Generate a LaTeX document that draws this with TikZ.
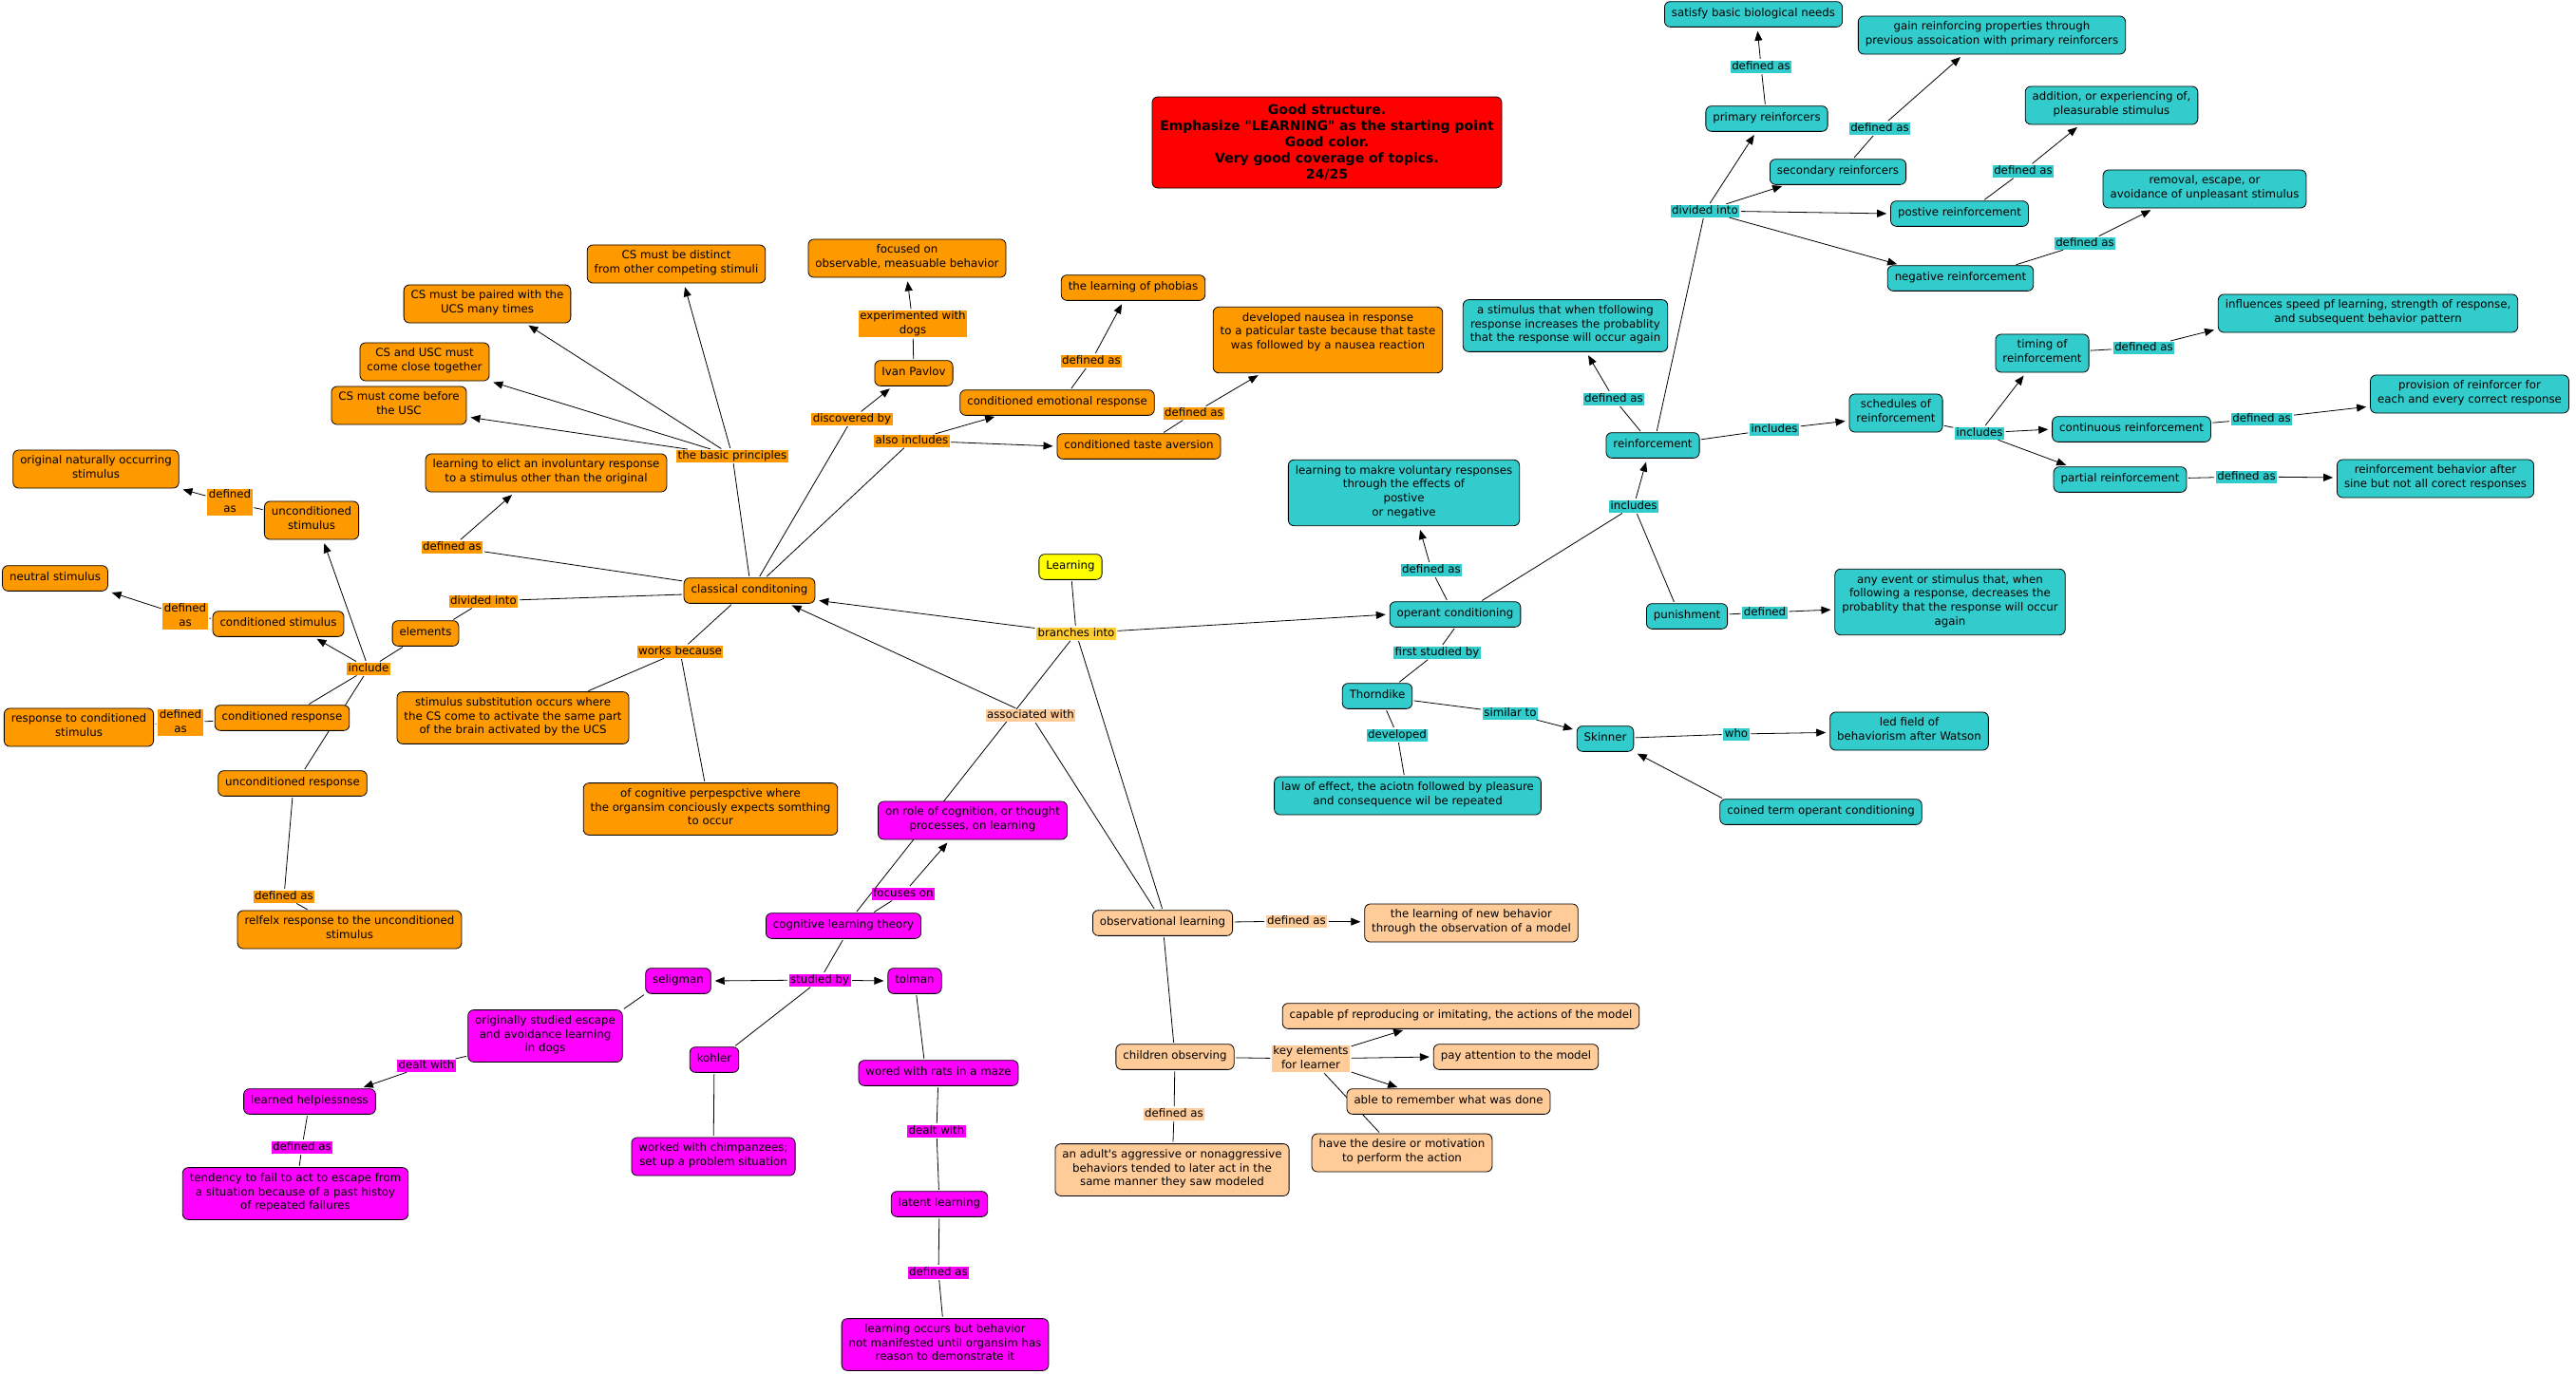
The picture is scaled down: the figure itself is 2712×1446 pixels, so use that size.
\documentclass[tikz,border=0pt]{standalone}
\usepackage{fontspec}
\newfontfamily\cfont{DejaVu Sans}
\usetikzlibrary{arrows.meta}
\pgfdeclarelayer{bottom}
\pgfdeclarelayer{edges}
\pgfsetlayers{bottom,edges,main}
\definecolor{orC}{HTML}{FF9900}
\definecolor{tlC}{HTML}{33CCCC}
\definecolor{mgC}{HTML}{FF00FF}
\definecolor{pcC}{HTML}{FFCC99}
\definecolor{ylC}{HTML}{FFFF00}
\definecolor{gdC}{HTML}{FFCC33}
\definecolor{rdC}{HTML}{FF0000}
\newcommand\lstrut{\vrule height 9pt depth 3pt width 0pt}
\tikzset{
  concept/.style={draw=black, line width=0.8pt, rounded corners=6pt, align=center,
    inner xsep=7.5pt, inner ysep=6pt, font=\cfont\fontsize{11.8}{14.7}\selectfont,
    execute at begin node=\strut, execute at end node=\strut},
  oc/.style={concept, fill=orC},
  tc/.style={concept, fill=tlC},
  mc/.style={concept, fill=mgC},
  pc/.style={concept, fill=pcC},
  lab/.style={inner xsep=1.5pt, inner ysep=0.5pt, align=center,
    font=\cfont\fontsize{11.8}{14.7}\selectfont,
    execute at begin node=\lstrut, execute at end node=\lstrut},
  ol/.style={lab, fill=orC},
  tl/.style={lab, fill=tlC},
  ml/.style={lab, fill=mgC},
  pl/.style={lab, fill=pcC},
  ln/.style={draw=black, line width=0.8pt, shorten <=1.5pt, shorten >=1.5pt},
  ar/.style={ln, -{Triangle[length=10pt,width=8pt]}, shorten >=4pt}
}
\begin{document}
\begin{tikzpicture}[x=1pt,y=-1pt]
\useasboundingbox (0,0) rectangle (2712,1446);
\begin{pgfonlayer}{bottom}
\fill[white] (0,0) rectangle (2712,1446);
\end{pgfonlayer}

% ---------- note ----------
\node[draw=black, line width=0.8pt, rounded corners=6pt, fill=rdC, align=center,
  minimum width=368pt, minimum height=96pt, inner sep=3pt,
  font=\cfont\bfseries\fontsize{14}{17}\selectfont] (note) at (1397,150)
  {Good structure.\\Emphasize "LEARNING" as the starting point\\Good color.\\Very good coverage of topics.\\24/25};

% ---------- classical (orange) ----------
\node[oc] (cs1) at (712,278) {CS must be distinct\\from other competing stimuli};
\node[oc] (cs2) at (513,320) {CS must be paired with the\\UCS many times};
\node[oc] (cs3) at (447,381) {CS and USC must\\come close together};
\node[oc] (cs4) at (420,427) {CS must come before\\the USC};
\node[oc] (focus) at (955,272) {focused on\\observable, measuable behavior};
\node[oc] (pavlov) at (962,393) {Ivan Pavlov};
\node[oc] (phobia) at (1193,303) {the learning of phobias};
\node[oc] (nausea) at (1398,358) {developed nausea in response\\to a paticular taste because that taste\\was followed by a nausea reaction\\\mbox{}};
\node[oc] (cer) at (1113,424) {conditioned emotional response};
\node[oc] (cta) at (1199,470) {conditioned taste aversion};
\node[oc] (elicit) at (575,498) {learning to elict an involuntary response\\to a stimulus other than the original};
\node[oc] (orig) at (101,494) {original naturally occurring\\stimulus};
\node[oc] (ucs) at (328,548) {unconditioned\\stimulus};
\node[oc] (neutral) at (58,609) {neutral stimulus};
\node[oc] (csn) at (293,657) {conditioned stimulus};
\node[oc] (elements) at (448,667) {elements};
\node[oc] (classical) at (789,622) {classical conditoning};
\node[oc] (cr) at (297,756) {conditioned response};
\node[oc] (resp) at (83,766) {response to conditioned\\stimulus};
\node[oc] (ur) at (308,825) {unconditioned response};
\node[oc] (reflex) at (368,979) {relfelx response to the unconditioned\\stimulus};
\node[oc] (subst) at (540,756) {stimulus substitution occurs where\\the CS come to activate the same part\\of the brain activated by the UCS};
\node[oc] (cogpersp) at (748,852) {of cognitive perpespctive where\\the organsim conciously expects somthing\\to occur};

\node[concept, fill=ylC] (learning) at (1127,597) {Learning};

% ---------- cognitive (magenta) ----------
\node[mc] (onrole) at (1024,864) {on role of cognition, or thought\\processes, on learning};
\node[mc] (cogtheory) at (888,975) {cognitive learning theory};
\node[mc] (seligman) at (714,1033) {seligman};
\node[mc] (tolman) at (963,1033) {tolman};
\node[mc] (kohler) at (752,1116) {kohler};
\node[mc] (chimp) at (751,1218) {worked with chimpanzees;\\set up a problem situation};
\node[mc] (rats) at (988,1130) {wored with rats in a maze};
\node[mc] (latent) at (989,1268) {latent learning};
\node[mc] (latentdef) at (995,1416) {learning occurs but behavior\\not manifested until organsim has\\reason to demonstrate it};
\node[mc] (escape) at (574,1091) {originally studied escape\\and avoidance learning\\in dogs};
\node[mc] (helpless) at (326,1160) {learned helplessness};
\node[mc] (tendency) at (311,1257) {tendency to fail to act to escape from\\a situation because of a past histoy\\of repeated failures};

% ---------- observational (peach) ----------
\node[pc] (obs) at (1224,972) {observational learning};
\node[pc] (newbeh) at (1549,972) {the learning of new behavior\\through the observation of a model};
\node[pc] (children) at (1237,1113) {children observing};
\node[pc] (adult) at (1234,1232) {an adult's aggressive or nonaggressive\\behaviors tended to later act in the\\same manner they saw modeled};
\node[pc] (capable) at (1538,1070) {capable pf reproducing or imitating, the actions of the model};
\node[pc] (payatt) at (1596,1113) {pay attention to the model};
\node[pc] (remember) at (1525,1160) {able to remember what was done};
\node[pc] (desire) at (1476,1214) {have the desire or motivation\\to perform the action};

% ---------- operant (teal) ----------
\node[tc] (satisfy) at (1846,15) {satisfy basic biological needs};
\node[tc] (primary) at (1860,125) {primary reinforcers};
\node[tc] (gain) at (2097,37) {gain reinforcing properties through\\previous assoication with primary reinforcers};
\node[tc] (secondary) at (1935,181) {secondary reinforcers};
\node[tc] (positive) at (2063,225) {postive reinforcement};
\node[tc] (negative) at (2064,293) {negative reinforcement};
\node[tc] (addition) at (2223,111) {addition, or experiencing of,\\pleasurable stimulus};
\node[tc] (removal) at (2321,199) {removal, escape, or\\avoidance of unpleasant stimulus};
\node[tc] (stimdef) at (1648,343) {a stimulus that when tfollowing\\response increases the probablity\\that the response will occur again};
\node[tc] (reinf) at (1740,469) {reinforcement};
\node[tc] (sched) at (1996,435) {schedules of\\reinforcement};
\node[tc] (timing) at (2150,372) {timing of\\reinforcement};
\node[tc] (influences) at (2493,330) {influences speed pf learning, strength of response,\\and subsequent behavior pattern};
\node[tc] (continuous) at (2244,452) {continuous reinforcement};
\node[tc] (provision) at (2600,415) {provision of reinforcer for\\each and every correct response};
\node[tc] (partial) at (2232,505) {partial reinforcement};
\node[tc] (partialdef) at (2564,504) {reinforcement behavior after\\sine but not all corect responses};
\node[tc] (voluntary) at (1478,519) {learning to makre voluntary responses\\through the effects of\\postive\\or negative};
\node[tc] (operant) at (1532,647) {operant conditioning};
\node[tc] (punish) at (1776,649) {punishment};
\node[tc] (anyevent) at (2053,634) {any event or stimulus that, when\\following a response, decreases the\\probablity that the response will occur\\again};
\node[tc] (thorndike) at (1450,733) {Thorndike};
\node[tc] (skinner) at (1690,778) {Skinner};
\node[tc] (ledfield) at (2010,770) {led field of\\behaviorism after Watson};
\node[tc] (lawef) at (1482,838) {law of effect, the aciotn followed by pleasure\\and consequence wil be repeated};
\node[tc] (coined) at (1917,855) {coined term operant conditioning};

% ---------- linking phrases ----------
\node[ol] (lbasic) at (771,480) {the basic principles};
\node[ol] (ldogs) at (961,341) {experimented with\\dogs};
\node[ol] (ldisc) at (897,441) {discovered by};
\node[ol] (lalso) at (960,464) {also includes};
\node[ol] (lphob) at (1149,380) {defined as};
\node[ol] (ltaste) at (1257,435) {defined as};
\node[ol] (lelic) at (476,576) {defined as};
\node[ol] (ldiv) at (509,633) {divided into};
\node[ol] (linc) at (388,704) {include};
\node[ol] (lucs) at (242,529) {defined\\as};
\node[ol] (lcs) at (195,649) {defined\\as};
\node[ol] (lcr) at (190,761) {defined\\as};
\node[ol] (lur) at (299,944) {defined as};
\node[ol] (lworks) at (716,686) {works because};
\node[lab, fill=gdC] (lbranch) at (1133,667) {branches into};
\node[pl] (lassoc) at (1085,753) {associated with};
\node[pl] (lobs) at (1365,970) {defined as};
\node[pl] (lkey) at (1380,1115) {key elements\\for learner};
\node[pl] (lchild) at (1236,1173) {defined as};
\node[ml] (lfocus) at (951,941) {focuses on};
\node[ml] (lstud) at (863,1032) {studied by};
\node[ml] (ldealt1) at (449,1122) {dealt with};
\node[ml] (lhelp) at (318,1208) {defined as};
\node[ml] (ldealt2) at (986,1191) {dealt with};
\node[ml] (llat) at (988,1340) {defined as};
\node[tl] (lprim) at (1854,70) {defined as};
\node[tl] (lsec) at (1979,135) {defined as};
\node[tl] (ldivi) at (1795,222) {divided into};
\node[tl] (lpos) at (2130,180) {defined as};
\node[tl] (lneg) at (2195,256) {defined as};
\node[tl] (lreinf) at (1699,420) {defined as};
\node[tl] (linc1) at (1868,452) {includes};
\node[tl] (linc2) at (2084,456) {includes};
\node[tl] (ltim) at (2257,366) {defined as};
\node[tl] (lcont) at (2381,441) {defined as};
\node[tl] (lpart) at (2365,502) {defined as};
\node[tl] (lopdef) at (1507,600) {defined as};
\node[tl] (lopinc) at (1720,533) {includes};
\node[tl] (lpun) at (1858,645) {defined};
\node[tl] (lfirst) at (1513,687) {first studied by};
\node[tl] (lsim) at (1590,751) {similar to};
\node[tl] (lwho) at (1828,773) {who};
\node[tl] (ldev) at (1471,774) {developed};

% ---------- connectors ----------
\begin{pgfonlayer}{edges}
% classical
\draw[ln] (classical.north) -- (lbasic);
\draw[ar] (lbasic) -- ([xshift=8pt]cs1.south);
\draw[ar] (lbasic) -- ([xshift=40pt]cs2.south);
\draw[ar] (lbasic) -- (cs3.south east);
\draw[ar] (lbasic) -- ([yshift=-12pt]cs4.east);
\draw[ln] ([xshift=10pt]classical.north) -- (ldisc);
\draw[ar] (ldisc) -- ([xshift=-22pt]pavlov.south);
\draw[ln] (pavlov) -- (ldogs);
\draw[ar] (ldogs) -- (focus.south);
\draw[ln] ([xshift=17pt]classical.north) -- (lalso);
\draw[ar] (lalso) -- ([xshift=-62pt]cer.south);
\draw[ar] (lalso) -- (cta.west);
\draw[ln] ([xshift=14pt]cer.north) -- (lphob);
\draw[ar] (lphob) -- ([xshift=-10pt]phobia.south);
\draw[ln] ([xshift=25pt]cta.north) -- (ltaste);
\draw[ar] (ltaste) -- ([xshift=-70pt]nausea.south);
\draw[ln] ([yshift=10pt]classical.west) -- (lelic);
\draw[ar] (lelic) -- ([xshift=-33pt]elicit.south);
\draw[ln] ([yshift=-4pt]classical.west) -- (ldiv);
\draw[ln] (ldiv) -- ([xshift=28pt]elements.north);
\draw[ln] ([xshift=-23pt]elements.south) -- (linc);
\draw[ar] (linc) -- ([xshift=12pt]ucs.south);
\draw[ar] (linc) -- ([xshift=37pt]csn.south);
\draw[ln] (linc) -- ([xshift=27pt]cr.north);
\draw[ln] (linc) -- ([xshift=12pt]ur.north);
\draw[ln] (ucs) -- (lucs);
\draw[ar] (lucs) -- (orig.south east);
\draw[ln] (csn) -- (lcs);
\draw[ar] (lcs) -- (neutral.south east);
\draw[ln] (cr) -- (lcr);
\draw[ln] (lcr) -- (resp);
\draw[ln] (ur.south) -- (lur);
\draw[ln] (lur) -- ([xshift=-43pt]reflex.north);
\draw[ln] ([xshift=-18pt]classical.south) -- (lworks);
\draw[ln] (lworks) -- ([xshift=78pt]subst.north);
\draw[ln] (lworks) -- ([xshift=-6pt]cogpersp.north);
% centre
\draw[ln] (learning) -- (lbranch);
\draw[ar] (lbranch) -- ([yshift=-10pt]classical.east);
\draw[ar] (lbranch) -- (operant.west);
\draw[ln] (lbranch) -- ([xshift=13pt]cogtheory.north);
\draw[ln] (lbranch) -- (obs.north);
\draw[ln] ([xshift=-8pt]obs.north) -- (lassoc);
\draw[ar] (lassoc) -- ([xshift=41pt]classical.south);
% cognitive
\draw[ln] ([xshift=31pt]cogtheory.north) -- (lfocus);
\draw[ar] (lfocus) -- ([xshift=-24pt]onrole.south);
\draw[ln] (cogtheory.south) -- (lstud);
\draw[ar] (lstud) -- (seligman.east);
\draw[ar] (lstud) -- (tolman.west);
\draw[ln] (lstud) -- ([xshift=21pt]kohler.north);
\draw[ln] (kohler) -- (chimp);
\draw[ln] (tolman) -- ([xshift=-15pt]rats.north);
\draw[ln] (rats) -- (ldealt2);
\draw[ln] (ldealt2) -- (latent);
\draw[ln] (latent) -- (llat);
\draw[ln] (llat) -- (latentdef);
\draw[ln] (seligman.south west) -- (escape.north east);
\draw[ln] ([yshift=-21pt]escape.west) -- (ldealt1);
\draw[ar] (ldealt1) -- ([xshift=53pt]helpless.north);
\draw[ln] (helpless) -- (lhelp);
\draw[ln] (lhelp) -- (tendency);
% observational
\draw[ln] (obs) -- (lobs);
\draw[ar] (lobs) -- (newbeh);
\draw[ln] (obs) -- (children);
\draw[ln] (children) -- (lkey);
\draw[ar] (lkey) -- ([xshift=-57pt]capable.south);
\draw[ar] (lkey) -- (payatt.west);
\draw[ar] (lkey) -- ([xshift=-50pt]remember.north);
\draw[ln] (lkey) -- ([xshift=-23pt]desire.north);
\draw[ln] (children) -- (lchild);
\draw[ln] (lchild) -- (adult);
% operant
\draw[ln] ([xshift=-8pt]operant.north) -- (lopdef);
\draw[ar] (lopdef) -- ([xshift=16pt]voluntary.south);
\draw[ln] ([xshift=27pt]operant.north) -- (lopinc);
\draw[ar] (lopinc) -- ([xshift=-6pt]reinf.south);
\draw[ln] (lopinc) -- ([xshift=-13pt]punish.north);
\draw[ln] (punish) -- (lpun);
\draw[ar] (lpun) -- ([yshift=-8pt]anyevent.west);
\draw[ln] (operant.south) -- (lfirst);
\draw[ln] (lfirst) -- ([xshift=22pt]thorndike.north);
\draw[ln] (thorndike) -- (lsim);
\draw[ar] (lsim) -- ([yshift=9pt]skinner.west);
\draw[ln] ([xshift=9pt]thorndike.south) -- (ldev);
\draw[ln] (ldev) -- (lawef);
\draw[ln] (skinner) -- (lwho);
\draw[ar] (lwho) -- (ledfield);
\draw[ar] ([xshift=4pt]coined.north west) -- (skinner.south east);
% reinforcement
\draw[ln] ([xshift=-12pt]reinf.north) -- (lreinf);
\draw[ar] (lreinf) -- ([xshift=22pt]stimdef.south);
\draw[ln] ([xshift=4pt]reinf.north) -- (ldivi);
\draw[ar] (ldivi) -- ([xshift=-11pt]primary.south);
\draw[ar] (ldivi) -- ([xshift=-55pt]secondary.south);
\draw[ar] (ldivi) -- (positive.west);
\draw[ar] (ldivi) -- ([xshift=-63pt]negative.north);
\draw[ln] (primary) -- (lprim);
\draw[ar] (lprim) -- ([xshift=4pt]satisfy.south);
\draw[ln] ([xshift=16pt]secondary.north) -- (lsec);
\draw[ar] (lsec) -- ([xshift=-30pt]gain.south);
\draw[ln] ([xshift=25pt]positive.north) -- (lpos);
\draw[ar] (lpos) -- ([xshift=-33pt]addition.south);
\draw[ln] ([xshift=57pt]negative.north) -- (lneg);
\draw[ar] (lneg) -- ([xshift=-53pt]removal.south);
\draw[ln] ([yshift=6pt]reinf.east) -- (linc1);
\draw[ar] (linc1) -- ([yshift=-8pt]sched.west);
\draw[ln] ([yshift=-13pt]sched.east) -- (linc2);
\draw[ar] (linc2) -- ([xshift=-17pt]timing.south);
\draw[ar] (linc2) -- (continuous.west);
\draw[ar] (linc2) -- ([xshift=-53pt]partial.north);
\draw[ln] (timing) -- (ltim);
\draw[ar] (ltim) -- ([yshift=4pt]influences.south west);
\draw[ln] (continuous) -- (lcont);
\draw[ar] (lcont) -- ([yshift=-13pt]provision.west);
\draw[ln] (partial) -- (lpart);
\draw[ar] (lpart) -- (partialdef);
\end{pgfonlayer}
\end{tikzpicture}
\end{document}
